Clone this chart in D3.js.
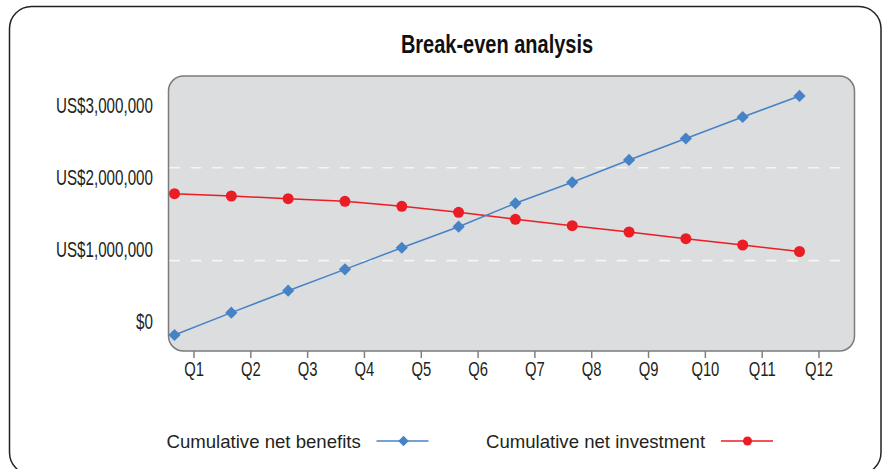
<!DOCTYPE html>
<html>
<head>
<meta charset="utf-8">
<script src="https://cdn.jsdelivr.net/npm/d3@7"></script>
<style>
  body { margin: 0; background: #fff; }
  svg { display: block; }
</style>
</head>
<body>
<svg id="chart" width="887" height="469"></svg>
<script>
// chart values
const quarters = ["Q1","Q2","Q3","Q4","Q5","Q6","Q7","Q8","Q9","Q10","Q11","Q12"];
const netBenefits = [-184000, 125000, 429000, 725000, 1024000, 1315000, 1639000, 1930000, 2239000, 2536000, 2834000, 3125000];
const netInvestment = [1772000, 1740000, 1703000, 1667000, 1598000, 1515000, 1418000, 1329000, 1242000, 1149000, 1062000, 972000];
const yTicks = [0, 1000000, 2000000, 3000000];
const gridValues = [845000, 2132000];

const blue = "#4683c6";
const red = "#ec1c24";
const textColor = "#231f20";
const font = "'Liberation Sans', Arial, sans-serif";

const svg = d3.select("#chart");

// outer frame
svg.append("rect")
    .attr("x", 9.5)
    .attr("y", 6.5)
    .attr("width", 871.5)
    .attr("height", 468)
    .attr("rx", 22)
    .attr("fill", "none")
    .attr("stroke", "#222")
    .attr("stroke-width", 1.5);

// title, squeezed to look condensed
svg.append("text")
    .attr("transform", "translate(497,44) scale(0.8,1)")
    .attr("dy", "0.35em")
    .attr("text-anchor", "middle")
    .attr("font-family", font)
    .attr("font-weight", "bold")
    .attr("font-size", 25)
    .attr("fill", "#111")
    .text("Break-even analysis");

const plot = {left: 168.5, top: 76, right: 854.5, bottom: 351};

svg.append("rect")
    .attr("x", plot.left)
    .attr("y", plot.top)
    .attr("width", plot.right - plot.left)
    .attr("height", plot.bottom - plot.top)
    .attr("rx", 15)
    .attr("fill", "#dcdddf")
    .attr("stroke", "#7b7b7b")
    .attr("stroke-width", 1.5);

const x = d3.scalePoint()
    .domain(quarters)
    .range([174.5, 799.5]);

// the axis ticks sit a bit to the right of the markers
const xAxisScale = x.copy().range(x.range().map(v => v + 19));

const y = d3.scaleLinear()
    .domain([0, 3000000])
    .range([321.7, 105]);

// dashed guide lines
svg.append("g")
    .selectAll("line")
    .data(gridValues)
    .join("line")
    .attr("x1", plot.left + 1)
    .attr("x2", 842)
    .attr("y1", d => y(d))
    .attr("y2", d => y(d))
    .attr("stroke", "#f5f5f5")
    .attr("stroke-width", 1.6)
    .attr("stroke-dasharray", "10.5,10.8");

// x axis
const xAxis = svg.append("g")
    .attr("transform", `translate(0,${plot.bottom})`)
    .call(d3.axisBottom(xAxisScale).tickSize(7).tickPadding(4));
xAxis.select(".domain").remove();
xAxis.selectAll(".tick line")
    .attr("stroke", "#808080")
    .attr("stroke-width", 1.5);
xAxis.selectAll(".tick text")
    .attr("transform", "scale(0.76,1)")
    .attr("font-family", font)
    .attr("font-size", 19.5)
    .attr("fill", textColor);

// y axis (labels only)
const yAxis = svg.append("g")
    .attr("transform", "translate(153,0)")
    .call(d3.axisLeft(y)
        .tickValues(yTicks)
        .tickSize(0)
        .tickPadding(0)
        .tickFormat(d => d === 0 ? "$0" : "US$" + d3.format(",")(d)));
yAxis.select(".domain").remove();
yAxis.selectAll(".tick text")
    .attr("transform", "scale(0.69,1)")
    .attr("font-family", font)
    .attr("font-size", 22)
    .attr("fill", textColor);

const line = d3.line()
    .x((d, i) => x(quarters[i]))
    .y(d => y(d));

// cumulative net investment
svg.append("path")
    .datum(netInvestment)
    .attr("d", line)
    .attr("fill", "none")
    .attr("stroke", red)
    .attr("stroke-width", 1.5);

svg.append("g")
    .selectAll("circle")
    .data(netInvestment)
    .join("circle")
    .attr("cx", (d, i) => x(quarters[i]))
    .attr("cy", d => y(d))
    .attr("r", 5.5)
    .attr("fill", red);

// cumulative net benefits
svg.append("path")
    .datum(netBenefits)
    .attr("d", line)
    .attr("fill", "none")
    .attr("stroke", blue)
    .attr("stroke-width", 1.5);

const diamond = d3.symbol().type(d3.symbolDiamond2).size(95);

svg.append("g")
    .selectAll("path")
    .data(netBenefits)
    .join("path")
    .attr("d", diamond)
    .attr("transform", (d, i) => `translate(${x(quarters[i])},${y(d)})`)
    .attr("fill", blue);

// legend
const legendItems = [
    {label: "Cumulative net benefits", color: blue, tx: 166.5, lx: 376.5, shape: "diamond"},
    {label: "Cumulative net investment", color: red, tx: 486, lx: 721, shape: "circle"}
];

const legend = svg.append("g")
    .attr("transform", "translate(0,441)");

legendItems.forEach(item => {
    legend.append("text")
        .attr("x", item.tx)
        .attr("y", 0)
        .attr("dy", "0.35em")
        .attr("font-family", font)
        .attr("font-size", 18.6)
        .attr("fill", textColor)
        .text(item.label);
    legend.append("line")
        .attr("x1", item.lx)
        .attr("x2", item.lx + 52)
        .attr("y1", 0)
        .attr("y2", 0)
        .attr("stroke", item.color)
        .attr("stroke-width", 1.5);
    if(item.shape === "diamond"){
        legend.append("path")
            .attr("d", d3.symbol().type(d3.symbolDiamond2).size(70))
            .attr("transform", `translate(${item.lx + 27},0)`)
            .attr("fill", item.color);
    } else {
        legend.append("circle")
            .attr("cx", item.lx + 26.5)
            .attr("cy", 0)
            .attr("r", 4.5)
            .attr("fill", item.color);
    }
});
</script>
</body>
</html>
